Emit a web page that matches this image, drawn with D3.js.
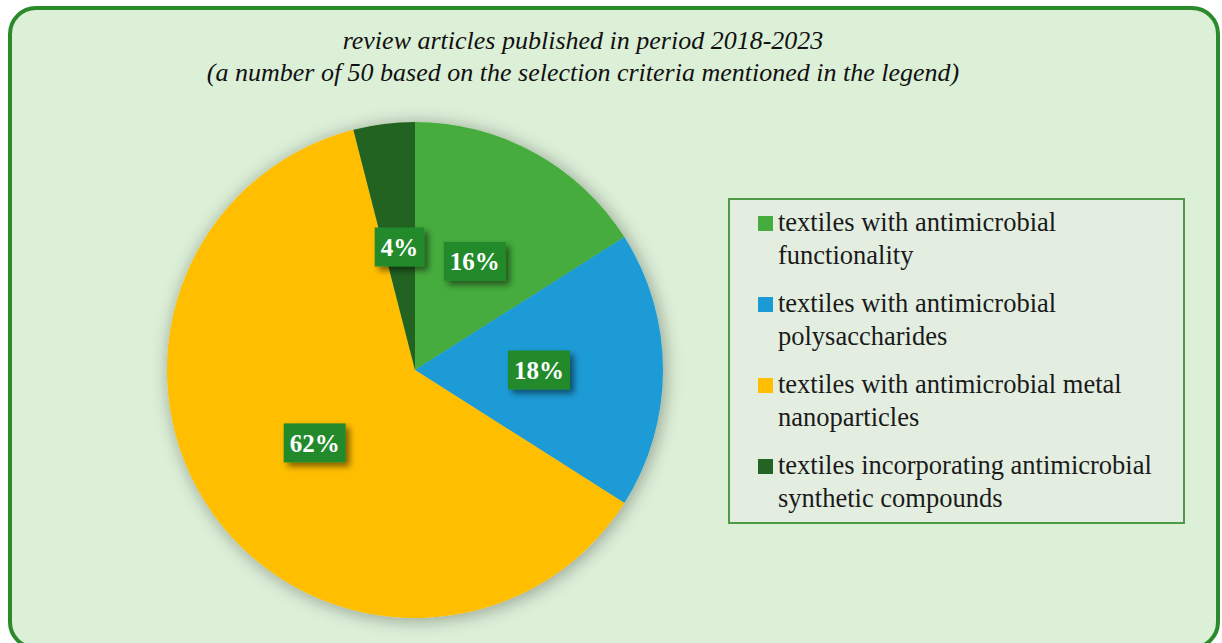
<!DOCTYPE html>
<html>
<head>
<meta charset="utf-8">
<script src="https://cdn.jsdelivr.net/npm/d3@7"></script>
<style>
  html, body { margin: 0; padding: 0; background: #ffffff; }
  svg { display: block; }
</style>
</head>
<body>
<svg id="chart" width="1222" height="643"></svg>
<script>
// Review articles by topic (share of 50 articles, in percent)
const categories = [
  "textiles with antimicrobial functionality",
  "textiles with antimicrobial polysaccharides",
  "textiles with antimicrobial metal nanoparticles",
  "textiles incorporating antimicrobial synthetic compounds"
];
const legendLines = [
  ["textiles with antimicrobial", "functionality"],
  ["textiles with antimicrobial", "polysaccharides"],
  ["textiles with antimicrobial metal", "nanoparticles"],
  ["textiles incorporating antimicrobial", "synthetic compounds"]
];
const shares = [16, 18, 62, 4];
const colors = ["#45ac3d", "#1a9bd6", "#ffbe00", "#236424"];
const titleLines = [
  "review articles published in period 2018-2023",
  "(a number of 50 based on the selection criteria mentioned in the legend)"
];

const W = 1222, H = 643;
const svg = d3.select("#chart");
const serif = "'Palatino Linotype', Palatino, 'Book Antiqua', 'Liberation Serif', serif";

const defs = svg.append("defs");
const pieShadow = defs.append("filter").attr("id", "pieShadow")
  .attr("x", "-20%").attr("y", "-20%").attr("width", "140%").attr("height", "140%");
pieShadow.append("feGaussianBlur").attr("in", "SourceAlpha").attr("stdDeviation", 9).attr("result", "b");
pieShadow.append("feOffset").attr("in", "b").attr("dx", 2).attr("dy", 2).attr("result", "o");
pieShadow.append("feComponentTransfer").attr("in", "o").attr("result", "s")
  .append("feFuncA").attr("type", "linear").attr("slope", 0.35);
const m1 = pieShadow.append("feMerge");
m1.append("feMergeNode").attr("in", "s");
m1.append("feMergeNode").attr("in", "SourceGraphic");

const boxShadow = defs.append("filter").attr("id", "boxShadow")
  .attr("x", "-30%").attr("y", "-30%").attr("width", "170%").attr("height", "170%");
boxShadow.append("feGaussianBlur").attr("in", "SourceAlpha").attr("stdDeviation", 3).attr("result", "b");
boxShadow.append("feOffset").attr("in", "b").attr("dx", 4).attr("dy", 4).attr("result", "o");
boxShadow.append("feComponentTransfer").attr("in", "o").attr("result", "s")
  .append("feFuncA").attr("type", "linear").attr("slope", 0.5);
const m2 = boxShadow.append("feMerge");
m2.append("feMergeNode").attr("in", "s");
m2.append("feMergeNode").attr("in", "SourceGraphic");

// Frame
svg.append("rect")
  .attr("x", 10).attr("y", 8).attr("width", 1208).attr("height", 640)
  .attr("rx", 26).attr("ry", 26)
  .attr("fill", "#dcefd7").attr("stroke", "#2b8a2b").attr("stroke-width", 4);

// Title
svg.append("g").selectAll("text").data(titleLines).join("text")
  .attr("x", 583).attr("y", (d, i) => 49 + i * 32)
  .attr("text-anchor", "middle")
  .attr("font-family", serif).attr("font-style", "italic")
  .attr("font-size", 26).attr("fill", "#111")
  .text(d => d);

// Pie
const cx = 415, cy = 370, R = 248;
const pie = d3.pie().sort(null).value(d => d)(shares);
const arc = d3.arc().innerRadius(0).outerRadius(R);
const labelArc = d3.arc().innerRadius(R * 0.5).outerRadius(R * 0.5);

const pg = svg.append("g").attr("transform", `translate(${cx},${cy})`);
pg.append("g").attr("filter", "url(#pieShadow)")
  .selectAll("path").data(pie).join("path")
  .attr("d", arc).attr("fill", (d, i) => colors[i]);

// Data labels
const lg = pg.selectAll("g.lbl").data(pie).join("g")
  .attr("class", "lbl")
  .attr("transform", d => `translate(${labelArc.centroid(d)})`);
lg.each(function(d) {
  const g = d3.select(this);
  const t = g.append("text")
    .attr("text-anchor", "middle").attr("dy", "0.36em")
    .attr("font-family", serif).attr("font-weight", "bold")
    .attr("font-size", 25).attr("fill", "#ffffff")
    .text(d.data + "%");
  const w = t.node().getComputedTextLength() + 12;
  const h = 39;
  g.insert("rect", "text")
    .attr("x", -w / 2).attr("y", -h / 2).attr("width", w).attr("height", h)
    .attr("fill", "#248a2a").attr("filter", "url(#boxShadow)");
});

// Legend
const leg = svg.append("g");
leg.append("rect").attr("x", 729).attr("y", 199).attr("width", 455).attr("height", 324)
  .attr("fill", "#e3eee1").attr("stroke", "#4f9a45").attr("stroke-width", 2);
const items = leg.selectAll("g.item").data(categories).join("g")
  .attr("class", "item")
  .attr("transform", (d, i) => `translate(758, ${231 + i * 81})`);
items.append("rect").attr("x", 0).attr("y", -15).attr("width", 15).attr("height", 15)
  .attr("fill", (d, i) => colors[i]);
items.append("text")
  .attr("font-family", serif).attr("font-size", 26.5).attr("fill", "#1a1a1a")
  .selectAll("tspan").data((d, i) => legendLines[i]).join("tspan")
  .attr("x", 20).attr("y", (d, j) => j * 33)
  .text(d => d);
</script>
</body>
</html>
